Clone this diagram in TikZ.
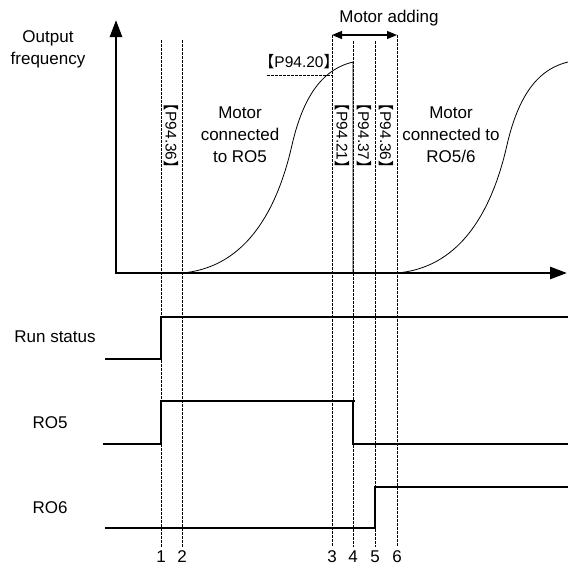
\documentclass[tikz,border=0pt]{standalone}
\usepackage{fontspec}
\setmainfont{Liberation Sans}
\newfontfamily\cjkfont{Noto Sans CJK SC}
\usetikzlibrary{arrows.meta}
\newcommand{\LBr}{{\cjkfont\kern-0.28em 【}}
\newcommand{\RBr}{{\cjkfont 】\kern-0.28em}}
\begin{document}
\begin{tikzpicture}[x=1pt,y=-1pt,
  axis/.style={line width=2.6pt},
  lowsig/.style={line width=2pt},
  highsig/.style={line width=1.3pt},
  guide/.style={line width=0.6pt, dash pattern=on 2.5pt off 1.5pt},
  curve/.style={line width=0.8pt},
  lbl/.style={font=\fontsize{17}{22}\selectfont, inner sep=0pt, align=center},
  plabel/.style={font=\fontsize{15.5}{17}\selectfont, inner sep=0pt},
  bighead/.tip={Triangle[length=17pt,width=12pt]},
  smallhead/.tip={Triangle[length=10pt,width=8pt]}]
\useasboundingbox (0,0) rectangle (587,568);
% axes
\coordinate (O) at (116,273);
\coordinate (Ytop) at (116,20);
\coordinate (Xend) at (567,273);
\draw[axis, bighead-bighead] (Ytop) -- (O) -- (Xend);
\node[lbl] (yl) at (48,49) {Output\\frequency};
% guides
\foreach \n/\x/\t in {1/161/40, 2/182/40, 3/332/35, 4/353/41, 5/375/41, 6/397/35} {
  \coordinate (t\n) at (\x,\t);
  \coordinate (b\n) at (\x,547);
  \draw[guide] (t\n) -- (b\n);
  \node[lbl, anchor=base] (n\n) at (\x,562) {\n};
}
% curves
\coordinate (s1) at (182,273);
\coordinate (p1) at (353,62);
\coordinate (f1) at (353,273);
\draw[curve] (s1) .. controls (240,268) and (275,220) .. (292,145)
  .. controls (305,88) and (328,68) .. (p1) -- (f1);
\coordinate (s2) at (397,273);
\coordinate (p2) at (568,62);
\draw[curve] (s2) .. controls (455,268) and (490,220) .. (507,145)
  .. controls (520,88) and (543,68) .. (p2);
% motor adding
\draw[line width=1.2pt, smallhead-smallhead] (t3) -- (t6);
\node[lbl] (ma) at (389,18) {Motor adding};
% P94.20
\node[plabel] (p20) at (299,62) {\LBr P94.20\RBr};
\coordinate (d1) at (267,75);
\coordinate (d2) at (332,75);
\draw[guide] (d1) -- (d2);
% vertical parameter labels
\node[plabel, rotate=-90] (v1) at (171.5,136) {\LBr P94.36\RBr};
\node[plabel, rotate=-90] (v2) at (342.5,136) {\LBr P94.21\RBr};
\node[plabel, rotate=-90] (v3) at (364,136) {\LBr P94.37\RBr};
\node[plabel, rotate=-90] (v4) at (386,136) {\LBr P94.36\RBr};
% motor texts
\node[lbl] (m1) at (240,135) {Motor\\connected\\to RO5};
\node[lbl] (m2) at (451,135) {Motor\\connected to\\RO5/6};
% signal labels
\node[lbl] (rs) at (55,337) {Run status};
\node[lbl] (r5) at (50,423) {RO5};
\node[lbl] (r6) at (50,508) {RO6};
% run status
\draw[highsig] (161,317) -- (568,317);
\draw[lowsig] (105,359) -- (161,359) -- (161,316.4);
% RO5
\draw[highsig] (161,401) -- (355,401);
\draw[lowsig] (103,444) -- (161,444) -- (161,400.4);
\draw[lowsig] (353,400.4) -- (353,444) -- (568,444);
% RO6
\draw[lowsig] (105,528) -- (375,528) -- (375,486.4);
\draw[highsig] (375,487) -- (568,487);
\end{tikzpicture}
\end{document}
